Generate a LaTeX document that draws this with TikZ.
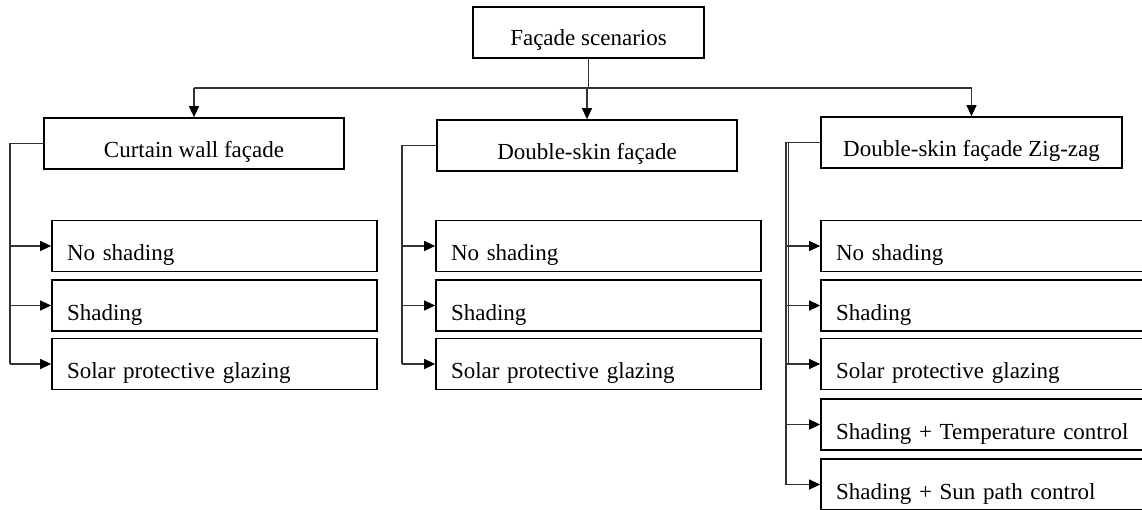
\documentclass[tikz,border=0pt]{standalone}
\usepackage{fontspec}
\setmainfont{Liberation Serif}
\usetikzlibrary{arrows.meta}
\begin{document}
\begin{tikzpicture}[x=1pt,y=-1pt,
  every node/.style={font=\fontsize{23}{27}\selectfont},
  headbox/.style={draw=black,line width=1.7pt,inner ysep=0pt,inner xsep=0pt,align=center,text height=39pt,text depth=12pt},
  itembox/.style={draw=black,line width=1.7pt,inner ysep=0pt,inner xsep=15pt,minimum width=325pt,text width=295pt,align=left,text height=40pt,text depth=11pt,
    execute at begin node={\hyphenpenalty=10000\exhyphenpenalty=10000}},
  conn/.style={draw=black!80,line width=1.2pt},
  arr/.style={conn,-{Triangle[length=11pt,width=10pt,color=black,fill=black]}}]
\useasboundingbox (0,0) rectangle (1142,509);
\clip (0,0) rectangle (1142,509);
\fill[white] (0,0) rectangle (1142,509);
% top
\node[headbox,minimum width=231pt,text height=38pt,text depth=13pt] (top) at (588.5,32.5) {Façade scenarios};
% level 2
\node[headbox,minimum width=300pt] (cw) at (194,143.5) {Curtain wall façade};
\node[headbox,minimum width=300pt] (ds) at (587,145.5) {Double-skin façade};
\node[headbox,minimum width=301pt] (zz) at (971.5,142.5) {Double-skin façade Zig-zag};
\coordinate (bus) at (588.5,88);
% level 3
\node[itembox] (cw1) at (214.5,246) {No shading};
\node[itembox] (cw2) at (214.5,305.5) {Shading};
\node[itembox] (cw3) at (214.5,364) {Solar protective glazing};
\node[itembox] (ds1) at (598.5,246) {No shading};
\node[itembox] (ds2) at (598.5,305.5) {Shading};
\node[itembox] (ds3) at (598.5,364) {Solar protective glazing};
\node[itembox] (zz1) at (983.5,246) {No shading};
\node[itembox] (zz2) at (983.5,305.5) {Shading};
\node[itembox] (zz3) at (983.5,364) {Solar protective glazing};
\node[itembox] (zz4) at (983.5,424.5) {Shading + Temperature control};
\node[itembox] (zz5) at (983.5,484.5) {Shading + Sun path control};
% spines
\coordinate (cwv) at (10,0);
\coordinate (dsv) at (402,0);
\coordinate (zzv) at (786,0);
% tree connectors
\draw[conn] (top.south) -- (bus);
\draw[conn] (bus -| cw.north) -- (bus -| zz.north);
\draw[arr] (bus -| cw.north) -- (cw.north);
\draw[arr] (bus -| ds.north) -- (ds.north);
\draw[arr] (bus -| zz.north) -- (zz.north);
% curtain wall
\draw[conn] (cw.west) -- (cw.west -| cwv) -- (cwv |- cw3.west);
\draw[arr] (cwv |- cw1.west) -- (cw1.west);
\draw[arr] (cwv |- cw2.west) -- (cw2.west);
\draw[arr] (cwv |- cw3.west) -- (cw3.west);
% double skin
\draw[conn] (ds.west) -- (ds.west -| dsv) -- (dsv |- ds3.west);
\draw[arr] (dsv |- ds1.west) -- (ds1.west);
\draw[arr] (dsv |- ds2.west) -- (ds2.west);
\draw[arr] (dsv |- ds3.west) -- (ds3.west);
% zig-zag
\draw[conn] (zz.west) -- (zz.west -| zzv) -- (zzv |- zz5.west);
\draw[conn,line width=0.8pt] ([xshift=2.2pt]zz.west -| zzv) -- ([xshift=2.2pt]zzv |- zz3.west);
\draw[arr] (zzv |- zz1.west) -- (zz1.west);
\draw[arr] (zzv |- zz2.west) -- (zz2.west);
\draw[arr] (zzv |- zz3.west) -- (zz3.west);
\draw[arr] (zzv |- zz4.west) -- (zz4.west);
\draw[arr] (zzv |- zz5.west) -- (zz5.west);
\end{tikzpicture}
\end{document}
